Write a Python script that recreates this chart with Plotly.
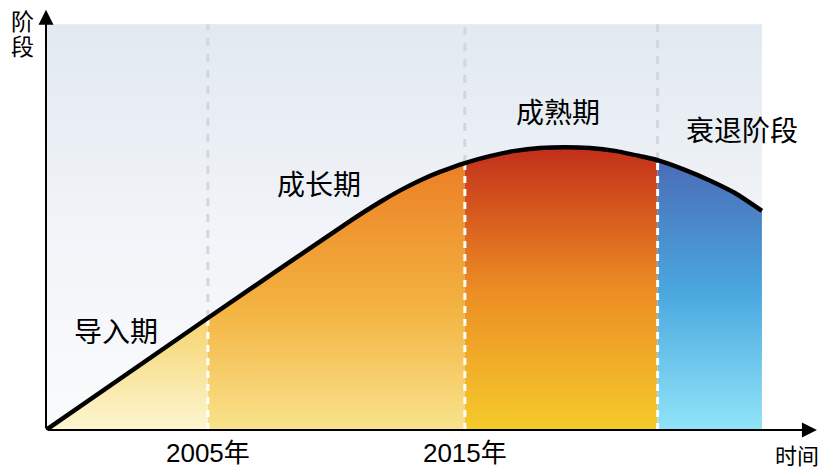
import numpy as np
import plotly.graph_objects as go

# ---- data ----
curve_x = [1998.7, 2005.0, 2010.53, 2011.7, 2012.47, 2013.25, 2014.03, 2015.0, 2015.97,
           2016.95, 2017.92, 2018.89, 2019.87, 2020.84, 2021.82, 2022.5, 2023.56,
           2024.53, 2025.51, 2026.56]
curve_y = [0.0, 27.6, 51.5, 56.2, 59.0, 61.5, 63.6, 65.8, 67.5,
           68.8, 69.5, 69.7, 69.5, 68.8, 67.5, 66.5, 64.1,
           61.5, 58.4, 54.0]
stage_bounds = [1998.7, 2005.0, 2015.0, 2022.5, 2026.56]
stage_names = ["导入期", "成长期", "成熟期", "衰退阶段"]
stage_label_x = [2001.42, 2009.32, 2018.63, 2025.80]
stage_label_y = [24.0, 60.2, 77.9, 73.5]
tick_vals = [2005, 2015]
tick_text = ["2005年", "2015年"]
divider_x = [2005.0, 2015.0, 2022.5]

stage_colors = [
    [[0, "#fdf6d2"], [1, "#f6d46e"]],
    [[0, "#f9e38e"], [0.45, "#f3b440"], [1, "#ec7f26"]],
    [[0, "#f5cb2b"], [0.5, "#ec8c24"], [1, "#c22e1a"]],
    [[0, "#91e4f8"], [0.5, "#4ba9df"], [1, "#4a6cb6"]],
]

FONT = "Arial, Liberation Sans, Noto Sans CJK SC"
W, H = 824, 470
ML, MR, MT, MB = 46, 4, 6, 40
cx = np.array(curve_x)
cy = np.array(curve_y)

fig = go.Figure()

# background panel
fig.add_trace(go.Scatter(
    x=[stage_bounds[0], stage_bounds[-1], stage_bounds[-1], stage_bounds[0], stage_bounds[0]],
    y=[0, 0, 100, 100, 0], mode="lines", line=dict(width=0), fill="toself",
    fillgradient=dict(type="vertical", start=0, stop=100,
                      colorscale=[[0, "#fafbfd"], [0.5, "#f1f4f8"], [1, "#e2e9f1"]]),
    hoverinfo="skip", showlegend=False))

# stage fills
for i in range(4):
    m = (cx >= stage_bounds[i] - 1e-9) & (cx <= stage_bounds[i + 1] + 1e-9)
    sx = cx[m]
    sy = cy[m]
    fig.add_trace(go.Scatter(
        x=sx, y=sy, mode="lines", line=dict(width=0, shape="spline", smoothing=0.6),
        fill="tozeroy",
        fillgradient=dict(type="vertical", start=0, stop=float(sy.max()),
                          colorscale=stage_colors[i]),
        hoverinfo="skip", showlegend=False))

# divider lines
for dx in divider_x:
    yv = float(np.interp(dx, cx, cy))
    fig.add_trace(go.Scatter(x=[dx, dx], y=[0, yv], mode="lines",
                             line=dict(color="white", width=3, dash="7px,6px"),
                             hoverinfo="skip", showlegend=False))
    fig.add_trace(go.Scatter(x=[dx, dx], y=[yv, 100], mode="lines",
                             line=dict(color="#d3d7dc", width=3, dash="8px,8px"),
                             hoverinfo="skip", showlegend=False))

# main curve
fig.add_trace(go.Scatter(x=curve_x, y=curve_y, mode="lines",
                         line=dict(color="black", width=4.5, shape="spline", smoothing=0.6),
                         hoverinfo="skip", showlegend=False))

ann = []
# axes arrows
ann.append(dict(x=2028.7, y=0, ax=1998.7, ay=0, xref="x", yref="y", axref="x", ayref="y",
                text="", showarrow=True, arrowhead=2, arrowsize=1.5, arrowwidth=2,
                arrowcolor="black"))
ann.append(dict(x=1998.7, y=103.6, ax=1998.7, ay=0, xref="x", yref="y", axref="x", ayref="y",
                text="", showarrow=True, arrowhead=2, arrowsize=1.5, arrowwidth=2,
                arrowcolor="black"))
for name, lx, ly in zip(stage_names, stage_label_x, stage_label_y):
    ann.append(dict(x=lx, y=ly, text=name, showarrow=False,
                    font=dict(family=FONT, size=28, color="black")))


def paper_x(px):
    return (px - ML) / (W - ML - MR)


def paper_y(py):
    return (H - MB - py) / (H - MT - MB)


for txt, px, py, fs in [("阶", 22, 22.5, 23), ("段", 22, 47.5, 23), ("时间", 797, 456, 22)]:
    ann.append(dict(x=paper_x(px), y=paper_y(py), xref="paper", yref="paper", text=txt,
                    xanchor="center", yanchor="middle", showarrow=False,
                    font=dict(family=FONT, size=fs, color="black")))

fig.update_layout(
    width=W, height=H,
    margin=dict(l=ML, r=MR, t=MT, b=MB, autoexpand=False),
    paper_bgcolor="white", plot_bgcolor="white",
    annotations=ann,
    xaxis=dict(range=[1998.7, 2028.82], showgrid=False, zeroline=False, showline=False,
               tickvals=tick_vals, ticktext=tick_text, ticks="",
               tickfont=dict(family=FONT, size=26, color="black"),
               ticklabelstandoff=5, fixedrange=True, automargin=False),
    yaxis=dict(range=[0, 104.5], showgrid=False, zeroline=False, showline=False,
               showticklabels=False, ticks="", fixedrange=True, automargin=False),
)

fig.write_html("out.html")
